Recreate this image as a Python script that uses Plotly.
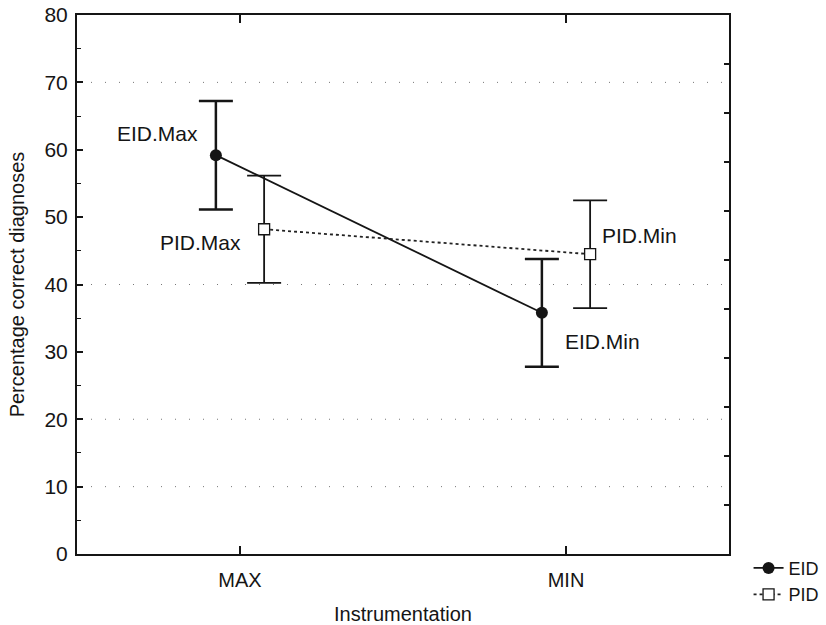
import plotly.graph_objects as go

# ---- data ----
categories = ["MAX", "MIN"]
cat_pos = [0, 1]
eid_values = [59.2, 35.8]
eid_err = [8.05, 8.0]
pid_values = [48.2, 44.5]
pid_err = [7.95, 8.0]
eid_labels = ["EID.Max", "EID.Min"]
pid_labels = ["PID.Max", "PID.Min"]
y_ticks = [0, 10, 20, 30, 40, 50, 60, 70, 80]
grid_levels = [10, 20, 40, 70]

offset = 0.074
eid_x = [p - offset for p in cat_pos]
pid_x = [p + offset for p in cat_pos]

FONT = "Liberation Sans, Arial, sans-serif"
INK = "#151515"

fig = go.Figure()

fig.add_trace(go.Scatter(
    x=eid_x, y=eid_values, name="EID", mode="lines+markers",
    line=dict(color=INK, width=1.8),
    marker=dict(symbol="circle", size=12, color=INK),
    error_y=dict(type="data", array=eid_err, visible=True, color=INK,
                 thickness=2.5, width=17),
))
fig.add_trace(go.Scatter(
    x=pid_x, y=pid_values, name="PID", mode="lines+markers",
    line=dict(color="#222", width=1.8, dash="dot"),
    marker=dict(symbol="square", size=11, color="white",
                line=dict(color=INK, width=1.3)),
    error_y=dict(type="data", array=pid_err, visible=True, color=INK,
                 thickness=1.8, width=17),
))
# dummy trace to carry the right-hand tick axis
fig.add_trace(go.Scatter(x=[None], y=[None], yaxis="y2", showlegend=False,
                         hoverinfo="skip"))

# point labels
label_font = dict(family=FONT, size=21, color=INK)
fig.add_annotation(x=eid_x[0], y=eid_values[0], text=eid_labels[0], showarrow=False,
                   xanchor="right", yanchor="middle", xshift=-16, yshift=22, font=label_font)
fig.add_annotation(x=eid_x[1], y=eid_values[1], text=eid_labels[1], showarrow=False,
                   xanchor="left", yanchor="middle", xshift=21, yshift=-29, font=label_font)
fig.add_annotation(x=pid_x[0], y=pid_values[0], text=pid_labels[0], showarrow=False,
                   xanchor="right", yanchor="middle", xshift=-21, yshift=-13, font=label_font)
fig.add_annotation(x=pid_x[1], y=pid_values[1], text=pid_labels[1], showarrow=False,
                   xanchor="left", yanchor="middle", xshift=10, yshift=19, font=label_font)

# sparse dotted grid
for g in grid_levels:
    fig.add_shape(type="line", xref="paper", x0=0, x1=1, yref="y", y0=g, y1=g,
                  line=dict(color="#777", width=1, dash="1px,13px"), layer="below")

fig.update_layout(
    width=826, height=625,
    margin=dict(l=77, r=97, t=15, b=71, autoexpand=False),
    paper_bgcolor="white", plot_bgcolor="white",
    font=dict(family=FONT, color=INK),
    showlegend=True,
    legend=dict(x=1.03, y=0.008, xanchor="left", yanchor="top",
                font=dict(family=FONT, size=18, color=INK),
                bgcolor="rgba(0,0,0,0)", itemwidth=30, tracegroupgap=0),
    xaxis=dict(
        range=[-0.5, 1.5], tickvals=cat_pos, ticktext=categories,
        showline=True, linecolor=INK, linewidth=2, mirror="ticks",
        ticks="inside", ticklen=8, tickwidth=2, tickcolor=INK,
        showgrid=False, zeroline=False, ticklabelstandoff=7,
        ticklabeloverflow="allow",
        tickfont=dict(family=FONT, size=20, color=INK),
        title=dict(text="Instrumentation", font=dict(family=FONT, size=20, color=INK),
                   standoff=19),
    ),
    yaxis=dict(
        range=[0, 80], tickvals=y_ticks,
        showline=True, linecolor=INK, linewidth=2, mirror=True,
        ticks="inside", ticklen=6, tickwidth=1.5, tickcolor=INK,
        minor=dict(ticks="inside", dtick=5, ticklen=4, tickcolor=INK, tickwidth=1),
        showgrid=False, zeroline=False, ticklabelstandoff=3,
        ticklabeloverflow="allow",
        tickfont=dict(family=FONT, size=21, color=INK),
        title=dict(text="Percentage correct diagnoses",
                   font=dict(family=FONT, size=20, color=INK), standoff=14),
    ),
    yaxis2=dict(
        range=[0, 11], dtick=1, overlaying="y", side="right",
        showticklabels=False, ticks="inside", ticklen=5, tickwidth=2, tickcolor=INK,
        showline=True, linecolor=INK, linewidth=2, showgrid=False, zeroline=False,
    ),
)

fig.write_html("out.html", config={"displayModeBar": False},
               post_script="document.body.style.margin='0';document.body.style.overflow='hidden';")
